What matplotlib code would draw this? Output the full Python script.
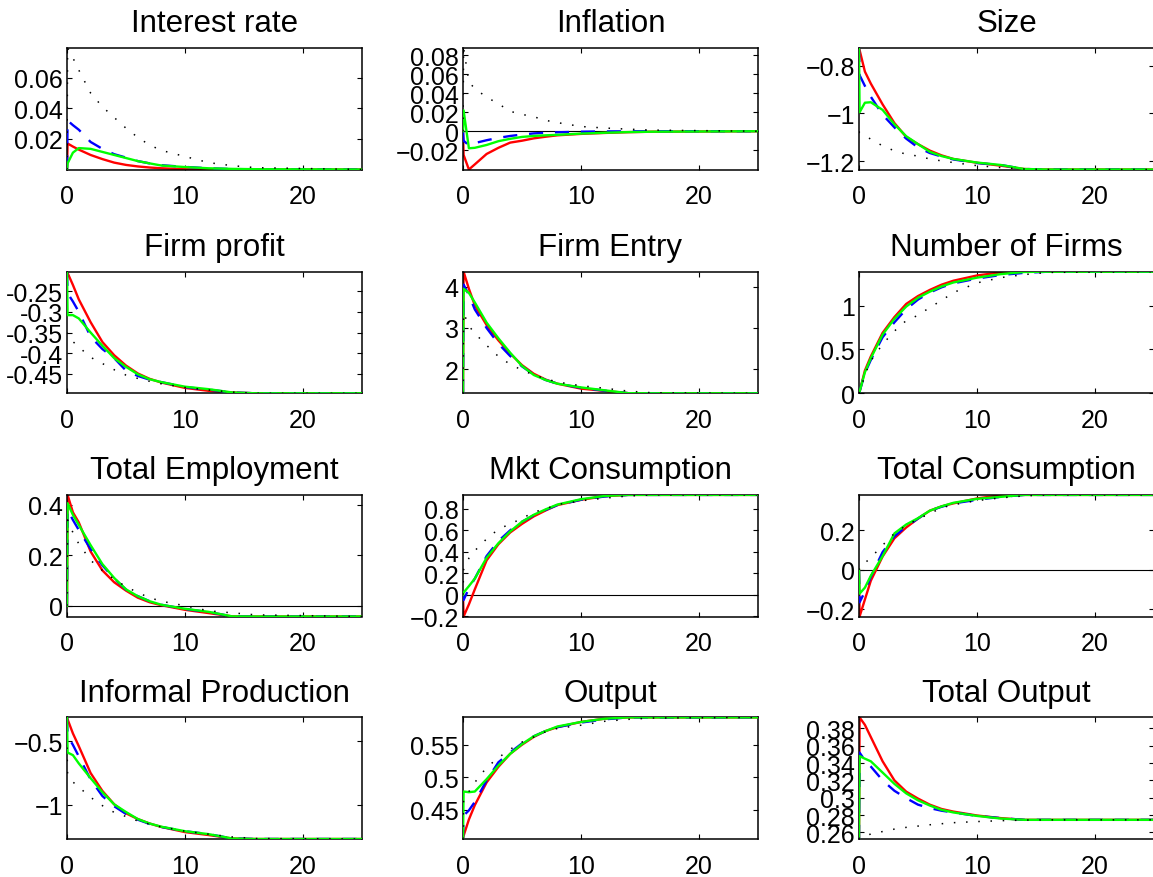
import matplotlib
matplotlib.use('Agg')
import matplotlib.pyplot as plt

plt.rcParams['font.family'] = ['Liberation Sans', 'DejaVu Sans']

# ---------------- data ----------------
T = [0, 0.05, 0.5, 1, 2, 3, 4, 5, 6, 7, 8, 10, 12, 14, 16, 25]

titles = ['Interest rate', 'Inflation', 'Size',
          'Firm profit', 'Firm Entry', 'Number of Firms',
          'Total Employment', 'Mkt Consumption', 'Total Consumption',
          'Informal Production', 'Output', 'Total Output']

# Interest rate
ir_red   = [0, 0.017, 0.0150, 0.0130, 0.0095, 0.0068, 0.0045, 0.0030, 0.0020, 0.0013, 0.0008, 0.0002, 0, 0, 0, 0]
ir_blue  = [0, 0.032, 0.029, 0.026, 0.018, 0.0135, 0.0100, 0.0078, 0.0055, 0.0040, 0.0028, 0.0017, 0.0008, 0.0003, 0.0001, 0]
ir_green = [0, 0.004, 0.011, 0.014, 0.0135, 0.0115, 0.0095, 0.0075, 0.0055, 0.0040, 0.0026, 0.0016, 0.0008, 0.0004, 0.0002, 0]
ir_black = [0, 0.0795, 0.073, 0.065, 0.050, 0.041, 0.034, 0.027, 0.021, 0.016, 0.0125, 0.0085, 0.0045, 0.0025, 0.0012, 0]

# Inflation
pi_red   = [0, -0.025, -0.0404, -0.035, -0.024, -0.0175, -0.012, -0.0100, -0.0075, -0.0058, -0.0043, -0.0028, -0.0018, -0.0010, -0.0005, 0]
pi_blue  = [0, -0.010, -0.0149, -0.0125, -0.0095, -0.0070, -0.0050, -0.0035, -0.0023, -0.0016, -0.0011, -0.0005, -0.0002, -0.0001, 0, 0]
pi_green = [0, 0.022, -0.018, -0.0175, -0.0145, -0.0105, -0.0080, -0.0060, -0.0050, -0.0043, -0.0038, -0.0025, -0.0016, -0.0009, -0.0005, 0]
pi_black = [0, 0.088, 0.052, 0.045, 0.036, 0.029, 0.021, 0.0178, 0.0153, 0.0115, 0.0091, 0.0050, 0.0034, 0.0022, 0.0012, 0]

# Size
sz_red   = [-0.726, -0.735, -0.825, -0.875, -0.962, -1.040, -1.098, -1.128, -1.155, -1.175, -1.190, -1.206, -1.218, -1.232, -1.234, -1.234]
sz_blue  = [-0.726, -0.840, -0.885, -0.930, -1.005, -1.058, -1.105, -1.142, -1.165, -1.180, -1.192, -1.207, -1.215, -1.232, -1.234, -1.234]
sz_green = [-0.726, -0.995, -0.955, -0.953, -0.985, -1.045, -1.095, -1.128, -1.160, -1.178, -1.190, -1.205, -1.215, -1.232, -1.234, -1.234]
sz_black = [-1.075, -1.080, -1.090, -1.108, -1.135, -1.156, -1.170, -1.178, -1.190, -1.198, -1.205, -1.218, -1.226, -1.232, -1.234, -1.234]

# Firm profit
fp_red   = [-0.203, -0.206, -0.235, -0.270, -0.325, -0.373, -0.405, -0.430, -0.449, -0.462, -0.471, -0.484, -0.491, -0.495, -0.497, -0.497]
fp_blue  = [-0.203, -0.255, -0.275, -0.300, -0.360, -0.390, -0.412, -0.442, -0.455, -0.464, -0.470, -0.482, -0.488, -0.495, -0.497, -0.497]
fp_green = [-0.203, -0.308, -0.308, -0.316, -0.350, -0.382, -0.412, -0.433, -0.451, -0.463, -0.470, -0.481, -0.487, -0.495, -0.497, -0.497]
fp_black = [-0.350, -0.360, -0.372, -0.385, -0.410, -0.425, -0.440, -0.453, -0.461, -0.468, -0.474, -0.483, -0.489, -0.494, -0.497, -0.497]

# Firm Entry
fe_red   = [1.417, 4.364, 3.95, 3.55, 3.07, 2.70, 2.38, 2.10, 1.89, 1.75, 1.65, 1.53, 1.475, 1.42, 1.417, 1.417]
fe_blue  = [1.417, 4.05, 3.80, 3.45, 3.00, 2.62, 2.32, 2.07, 1.87, 1.74, 1.65, 1.55, 1.48, 1.42, 1.417, 1.417]
fe_green = [1.417, 3.95, 3.85, 3.62, 3.13, 2.75, 2.40, 2.08, 1.86, 1.74, 1.65, 1.56, 1.49, 1.42, 1.417, 1.417]
fe_black = [1.417, 3.37, 3.05, 2.87, 2.58, 2.31, 2.12, 1.98, 1.86, 1.77, 1.69, 1.60, 1.54, 1.47, 1.43, 1.417]

# Number of Firms
nf_red   = [0, 0.02, 0.26, 0.42, 0.69, 0.87, 1.02, 1.11, 1.18, 1.24, 1.285, 1.345, 1.38, 1.388, 1.388, 1.388]
nf_blue  = [0, 0.02, 0.23, 0.38, 0.64, 0.81, 0.96, 1.07, 1.15, 1.21, 1.255, 1.31, 1.35, 1.375, 1.388, 1.388]
nf_green = [0, 0.02, 0.24, 0.40, 0.67, 0.85, 0.99, 1.09, 1.16, 1.22, 1.265, 1.32, 1.36, 1.385, 1.388, 1.388]
nf_black = [0, 0.01, 0.21, 0.37, 0.56, 0.71, 0.83, 0.89, 0.98, 1.06, 1.15, 1.26, 1.32, 1.355, 1.38, 1.388]

# Total Employment
te_red   = [0, 0.439, 0.37, 0.33, 0.215, 0.14, 0.093, 0.060, 0.032, 0.014, 0.002, -0.016, -0.029, -0.042, -0.0425, -0.0425]
te_blue  = [0, 0.380, 0.34, 0.30, 0.225, 0.16, 0.108, 0.064, 0.038, 0.018, 0.004, -0.013, -0.025, -0.042, -0.0425, -0.0425]
te_green = [0, 0.406, 0.36, 0.32, 0.240, 0.165, 0.110, 0.065, 0.038, 0.018, 0.004, -0.012, -0.024, -0.042, -0.0425, -0.0425]
te_black = [0, 0.340, 0.29, 0.245, 0.180, 0.140, 0.105, 0.076, 0.052, 0.032, 0.018, 0.0, -0.020, -0.028, -0.036, -0.0425]

# Mkt Consumption
mc_red   = [0, -0.203, -0.09, 0.05, 0.32, 0.47, 0.58, 0.66, 0.73, 0.785, 0.835, 0.884, 0.918, 0.93, 0.93, 0.93]
mc_blue  = [0, -0.05, 0.06, 0.15, 0.36, 0.50, 0.60, 0.68, 0.74, 0.79, 0.835, 0.885, 0.915, 0.93, 0.93, 0.93]
mc_green = [0, 0.02, 0.08, 0.15, 0.344, 0.48, 0.59, 0.68, 0.745, 0.795, 0.84, 0.89, 0.92, 0.93, 0.93, 0.93]
mc_black = [0, 0.234, 0.34, 0.41, 0.52, 0.61, 0.66, 0.71, 0.77, 0.80, 0.84, 0.875, 0.90, 0.92, 0.93, 0.93]

# Total Consumption
tc_red   = [0, -0.236, -0.15, -0.055, 0.068, 0.16, 0.215, 0.26, 0.30, 0.322, 0.337, 0.362, 0.378, 0.38, 0.38, 0.38]
tc_blue  = [0, -0.164, -0.11, -0.035, 0.09, 0.17, 0.22, 0.26, 0.30, 0.32, 0.337, 0.355, 0.37, 0.38, 0.38, 0.38]
tc_green = [0, -0.12, -0.09, -0.03, 0.07, 0.185, 0.23, 0.262, 0.30, 0.322, 0.34, 0.36, 0.37, 0.38, 0.38, 0.38]
tc_black = [0, 0.02, 0.035, 0.062, 0.125, 0.185, 0.225, 0.258, 0.285, 0.315, 0.33, 0.351, 0.365, 0.375, 0.38, 0.38]

# Informal Production
ip_red   = [-0.315, -0.33, -0.44, -0.54, -0.75, -0.89, -0.995, -1.065, -1.11, -1.145, -1.172, -1.212, -1.235, -1.262, -1.266, -1.266]
ip_blue  = [-0.315, -0.46, -0.53, -0.62, -0.80, -0.93, -1.01, -1.07, -1.115, -1.148, -1.172, -1.205, -1.228, -1.262, -1.266, -1.266]
ip_green = [-0.315, -0.59, -0.61, -0.675, -0.79, -0.90, -0.995, -1.055, -1.11, -1.145, -1.17, -1.205, -1.228, -1.262, -1.266, -1.266]
ip_black = [-0.55, -0.755, -0.82, -0.86, -0.94, -1.005, -1.058, -1.09, -1.125, -1.15, -1.172, -1.205, -1.228, -1.25, -1.262, -1.266]

# Output
op_red   = [0.405, 0.41, 0.435, 0.457, 0.492, 0.516, 0.536, 0.550, 0.562, 0.571, 0.577, 0.585, 0.590, 0.592, 0.592, 0.592]
op_blue  = [0.405, 0.441, 0.449, 0.462, 0.495, 0.523, 0.538, 0.552, 0.563, 0.571, 0.577, 0.584, 0.589, 0.592, 0.592, 0.592]
op_green = [0.405, 0.478, 0.477, 0.478, 0.497, 0.518, 0.536, 0.551, 0.563, 0.571, 0.578, 0.585, 0.590, 0.592, 0.592, 0.592]
op_black = [0.405, 0.466, 0.478, 0.492, 0.515, 0.530, 0.543, 0.554, 0.562, 0.570, 0.575, 0.580, 0.586, 0.589, 0.591, 0.592]

# Total Output
to_red   = [0.2524, 0.3926, 0.384, 0.370, 0.342, 0.320, 0.307, 0.299, 0.292, 0.287, 0.284, 0.2795, 0.2765, 0.2745, 0.2745, 0.2745]
to_blue  = [0.2524, 0.352, 0.343, 0.336, 0.320, 0.308, 0.2995, 0.292, 0.288, 0.285, 0.283, 0.279, 0.2765, 0.2745, 0.2745, 0.2745]
to_green = [0.2524, 0.348, 0.345, 0.342, 0.329, 0.316, 0.305, 0.297, 0.291, 0.286, 0.283, 0.279, 0.276, 0.2745, 0.2745, 0.2745]
to_black = [0.2524, 0.255, 0.2565, 0.258, 0.261, 0.2638, 0.2658, 0.2673, 0.2688, 0.270, 0.2712, 0.2725, 0.2735, 0.2742, 0.2745, 0.2745]

series = [
    (ir_red, ir_blue, ir_green, ir_black),
    (pi_red, pi_blue, pi_green, pi_black),
    (sz_red, sz_blue, sz_green, sz_black),
    (fp_red, fp_blue, fp_green, fp_black),
    (fe_red, fe_blue, fe_green, fe_black),
    (nf_red, nf_blue, nf_green, nf_black),
    (te_red, te_blue, te_green, te_black),
    (mc_red, mc_blue, mc_green, mc_black),
    (tc_red, tc_blue, tc_green, tc_black),
    (ip_red, ip_blue, ip_green, ip_black),
    (op_red, op_blue, op_green, op_black),
    (to_red, to_blue, to_green, to_black),
]

ytick_vals = [
    [0.02, 0.04, 0.06],
    [-0.02, 0, 0.02, 0.04, 0.06, 0.08],
    [-1.2, -1, -0.8],
    [-0.45, -0.4, -0.35, -0.3, -0.25],
    [2, 3, 4],
    [0, 0.5, 1],
    [0, 0.2, 0.4],
    [-0.2, 0, 0.2, 0.4, 0.6, 0.8],
    [-0.2, 0, 0.2],
    [-1, -0.5],
    [0.45, 0.5, 0.55],
    [0.26, 0.28, 0.3, 0.32, 0.34, 0.36, 0.38],
]
ytick_labels = [
    ['0.02', '0.04', '0.06'],
    ['\u22120.02', '0', '0.02', '0.04', '0.06', '0.08'],
    ['\u22121.2', '\u22121', '\u22120.8'],
    ['-0.45', '-0.4', '-0.35', '-0.3', '-0.25'],
    ['2', '3', '4'],
    ['0', '0.5', '1'],
    ['0', '0.2', '0.4'],
    ['\u22120.2', '0', '0.2', '0.4', '0.6', '0.8'],
    ['\u22120.2', '0', '0.2'],
    ['\u22121', '\u22120.5'],
    ['0.45', '0.5', '0.55'],
    ['0.26', '0.28', '0.3', '0.32', '0.34', '0.36', '0.38'],
]
xtick_vals = [0, 10, 20]
xtick_labels = ['0', '10', '20']

# ---------------- layout / style ----------------
ylims = [(0, 0.0795), (-0.0404, 0.088), (-1.234, -0.726), (-0.497, -0.203),
         (1.417, 4.364), (0, 1.388), (-0.0425, 0.439), (-0.203, 0.93),
         (-0.236, 0.38), (-1.266, -0.315), (0.405, 0.592), (0.2524, 0.3926)]
zero_line = [True, True, False, False, False, True, True, True, True, False, False, False]

W, H = 1153, 878
col_left = [67, 463, 859]
row_bottom = [170.5, 394.3, 617.5, 840.0]
ax_w, ax_h = 295, 121.6

fig = plt.figure(figsize=(W / 100, H / 100), dpi=100)

for i in range(12):
    r, c = divmod(i, 3)
    ax = fig.add_axes([col_left[c] / W, 1 - row_bottom[r] / H, ax_w / W, ax_h / H])
    red, blue, green, black = series[i]
    if zero_line[i]:
        ax.axhline(0, color='black', lw=0.8, zorder=1)
    ax.plot(T, red, color='#ff0000', lw=1.7, zorder=2)
    ax.plot(T, blue, color='#0000ff', lw=1.7, dashes=(6, 5), zorder=3)
    ax.plot(T, green, color='#00ff00', lw=1.7, zorder=4)
    ax.plot(T, black, color='black', lw=1.1, dashes=(1, 7), zorder=5)
    ax.set_xlim(0, 25)
    ax.set_ylim(*ylims[i])
    ax.set_xticks(xtick_vals)
    ax.set_xticklabels(xtick_labels)
    ax.set_yticks(ytick_vals[i])
    ax.set_yticklabels(ytick_labels[i])
    ax.tick_params(direction='in', length=3.5, width=0.8, top=True, right=True,
                   labelsize=18, colors='black')
    ax.tick_params(axis='x', pad=10.5)
    ax.tick_params(axis='y', pad=3)
    for s in ax.spines.values():
        s.set_linewidth(1.1)
        s.set_color('black')
    ax.set_title(titles[i], fontsize=22.5, pad=12)

fig.savefig('out.png', dpi=100)
